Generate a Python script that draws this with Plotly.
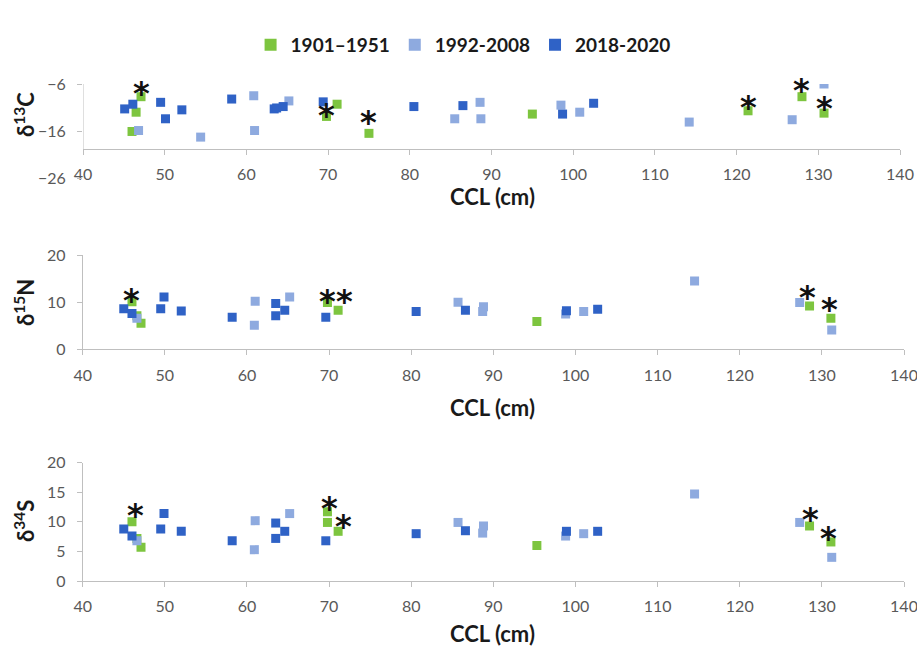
import plotly.graph_objects as go

# ---------------- data ----------------
SERIES = ["1901\u20131951", "1992-2008", "2018-2020"]
COLORS = ["#7DC53F", "#8EAADF", "#2F62C6"]

# delta 13C panel
c13_g_x = [46.0, 46.5, 47.1, 69.8, 71.1, 75.0, 95.0, 121.4, 128.0, 130.7]
c13_g_y = [-16.1, -12.0, -8.7, -12.9, -10.3, -16.5, -12.4, -11.7, -8.7, -12.2]
c13_l_x = [46.8, 54.4, 60.9, 61.0, 65.2, 85.5, 88.6, 88.7, 98.5, 100.8, 114.2, 126.8, 130.7]
c13_l_y = [-15.9, -17.3, -8.5, -15.9, -9.6, -13.4, -9.9, -13.4, -10.5, -12.0, -14.1, -13.6, -6.0]
c13_d_x = [45.1, 46.1, 49.5, 50.1, 52.1, 58.2, 63.4, 63.7, 64.5, 69.4, 80.5, 86.5, 98.7, 102.5]
c13_d_y = [-11.3, -10.3, -9.9, -13.4, -11.5, -9.2, -11.3, -11.1, -10.8, -9.8, -10.8, -10.6, -12.4, -10.1]
c13_star_x = [47.1, 69.8, 75.0, 121.4, 128.0, 130.7]
c13_star_y = [-6.9, -11.5, -13.0, -9.8, -6.2, -10.0]

# delta 15N panel
n15_g_x = [46.0, 46.6, 47.1, 69.8, 71.1, 95.3, 128.5, 131.1]
n15_g_y = [10.1, 7.1, 5.5, 9.9, 8.3, 5.9, 9.2, 6.6]
n15_l_x = [46.6, 60.9, 61.0, 65.2, 85.7, 88.7, 88.8, 98.8, 101.0, 114.5, 127.3, 131.2]
n15_l_y = [6.6, 5.1, 10.2, 11.1, 10.0, 8.0, 9.0, 7.5, 8.0, 14.5, 9.9, 4.1]
n15_d_x = [45.0, 46.0, 49.5, 49.9, 52.0, 58.2, 63.5, 63.5, 64.6, 69.6, 80.6, 86.6, 98.9, 102.7]
n15_d_y = [8.6, 7.6, 8.6, 11.1, 8.1, 6.8, 9.7, 7.1, 8.3, 6.8, 8.0, 8.3, 8.2, 8.5]
n15_star_x = [46.0, 69.8, 71.9, 128.3, 130.9]
n15_star_y = [11.5, 11.3, 11.3, 12.2, 9.6]

# delta 34S panel
s34_g_x = [46.0, 46.6, 47.1, 69.8, 69.8, 71.1, 95.3, 128.5, 131.1]
s34_g_y = [10.0, 7.2, 5.7, 9.9, 11.7, 8.4, 6.0, 9.3, 6.6]
s34_l_x = [46.6, 60.9, 61.0, 65.2, 85.7, 88.7, 88.8, 98.8, 101.0, 114.5, 127.3, 131.2]
s34_l_y = [6.8, 5.3, 10.2, 11.4, 9.9, 8.1, 9.3, 7.6, 8.0, 14.7, 9.9, 4.0]
s34_d_x = [45.0, 46.0, 49.5, 49.9, 52.0, 58.2, 63.5, 63.5, 64.6, 69.6, 80.6, 86.6, 98.9, 102.7]
s34_d_y = [8.8, 7.6, 8.8, 11.4, 8.4, 6.8, 9.8, 7.2, 8.4, 6.8, 8.0, 8.5, 8.4, 8.4]
s34_star_x = [46.4, 70.0, 71.7, 128.6, 130.8]
s34_star_y = [12.0, 13.2, 10.1, 11.4, 8.1]

X_TICKS = [40, 50, 60, 70, 80, 90, 100, 110, 120, 130, 140]
C13_TICKS = [-26, -16, -6]
N15_TICKS = [0, 10, 20]
S34_TICKS = [0, 5, 10, 15, 20]
C13_CROSS = -20  # horizontal axis crosses the delta13C axis here

Y_TITLES = ["\u03b4<sup>13</sup>C", "\u03b4<sup>15</sup>N", "\u03b4<sup>34</sup>S"]
X_TITLE = "CCL (cm)"

# ---------------- figure ----------------
W, H = 917, 648
FONT = "Lato, 'Open Sans', sans-serif"
GRID = "#BFBFBF"
TICKC = "#595959"

def px_y(p):
    return 1 - p / H

fig = go.Figure()

panels = [
    (c13_g_x, c13_g_y, c13_l_x, c13_l_y, c13_d_x, c13_d_y, c13_star_x, c13_star_y, "x", "y"),
    (n15_g_x, n15_g_y, n15_l_x, n15_l_y, n15_d_x, n15_d_y, n15_star_x, n15_star_y, "x2", "y2"),
    (s34_g_x, s34_g_y, s34_l_x, s34_l_y, s34_d_x, s34_d_y, s34_star_x, s34_star_y, "x3", "y3"),
]

annotations = []
for pi, (gx, gy, lx, ly, dx, dy, sx, sy, xa, ya) in enumerate(panels):
    for si, (xx, yy) in enumerate([(gx, gy), (lx, ly), (dx, dy)]):
        fig.add_trace(go.Scatter(
            x=xx, y=yy, mode="markers", xaxis=xa, yaxis=ya,
            name=SERIES[si], legendgroup=SERIES[si], showlegend=(pi == 0),
            marker=dict(symbol="square", size=9, color=COLORS[si],
                        line=dict(width=0)),
        ))
    for x0, y0 in zip(sx, sy):
        annotations.append(dict(
            x=x0, y=y0, xref=xa, yref=ya, text="*", showarrow=False,
            font=dict(family="DejaVu Sans", size=32, color="#111111", weight="bold"),
            xanchor="center", yanchor="middle", yshift=-5,
        ))

axis_common = dict(
    showgrid=False, zeroline=False, showline=True, linecolor=GRID, linewidth=1,
    ticks="outside", ticklen=5, tickcolor=GRID, automargin=False,
    ticklabeloverflow="allow",
    tickfont=dict(family=FONT, size=16, color=TICKC),
)

xdom_top = [83 / W, 900 / W]
xdom = [82.7 / W, 904 / W]

fig.update_layout(
    width=W, height=H, margin=dict(l=0, r=0, t=0, b=0, autoexpand=False),
    paper_bgcolor="white", plot_bgcolor="white",
    showlegend=True,
    legend=dict(orientation="h", x=0.505, xanchor="center", y=px_y(45), yanchor="middle",
                font=dict(family=FONT, size=19, color="#1A1A1A", weight="bold"),
                itemsizing="constant", bgcolor="rgba(0,0,0,0)"),
    xaxis=dict(domain=xdom_top, range=[40, 140], tickvals=X_TICKS, anchor="free",
               position=px_y(149), ticklabelstandoff=6, **axis_common),
    yaxis=dict(domain=[px_y(178), px_y(84)], range=[-26, -6], tickvals=C13_TICKS,
               anchor="x", ticklabelstandoff=8,
               **{**axis_common, "showline": False}),
    xaxis2=dict(domain=xdom, range=[40, 140], tickvals=X_TICKS, anchor="y2",
                ticklabelstandoff=6, **axis_common),
    yaxis2=dict(domain=[px_y(349.3), px_y(255)], range=[0, 20], tickvals=N15_TICKS,
                anchor="x2", ticklabelstandoff=8, **axis_common),
    xaxis3=dict(domain=xdom, range=[40, 140], tickvals=X_TICKS, anchor="y3",
                ticklabelstandoff=6, **axis_common),
    yaxis3=dict(domain=[px_y(581), px_y(462.7)], range=[0, 20], tickvals=S34_TICKS,
                anchor="x3", ticklabelstandoff=8, **axis_common),
)

# vertical axis line of the delta13C panel (runs from the crossing point up)
fig.add_shape(type="line", xref="x", yref="y", x0=40, x1=40, y0=C13_CROSS, y1=C13_TICKS[-1],
              line=dict(color=GRID, width=1))

title_font = dict(family=FONT, size=22, color="#1A1A1A", weight="bold")
for yc in [196, 407, 633]:
    annotations.append(dict(x=492 / W, y=px_y(yc), xref="paper", yref="paper", text=X_TITLE,
                            showarrow=False, font=title_font, xanchor="center", yanchor="middle"))
for t, yc in zip(Y_TITLES, [115, 303, 521]):
    annotations.append(dict(x=24 / W, y=px_y(yc), xref="paper", yref="paper", text=t,
                            showarrow=False, font=title_font, textangle=-90,
                            xanchor="center", yanchor="middle"))

fig.update_layout(annotations=annotations)

fig.write_html("out.html", config={"displayModeBar": False},
               post_script="document.body.style.margin='0';")
